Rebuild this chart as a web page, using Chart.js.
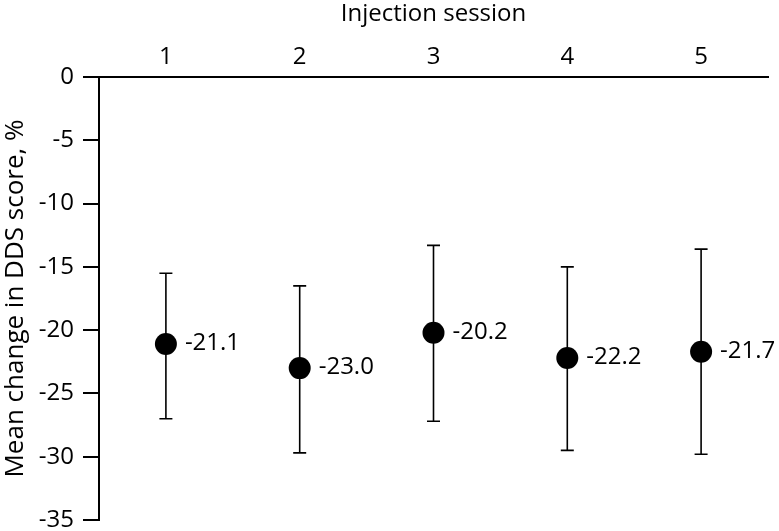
<!DOCTYPE html>
<html>
<head>
<meta charset="utf-8">
<script src="https://cdn.jsdelivr.net/npm/chart.js@4"></script>
<style>
  html, body { margin: 0; padding: 0; background: #fff; }
  #wrap { width: 779px; height: 531px; }
</style>
</head>
<body>
<div id="wrap"><canvas id="chart"></canvas></div>
<script>
// data
const sessions = ["1", "2", "3", "4", "5"];
const meanChange = [-21.1, -23.0, -20.2, -22.2, -21.7];
const errUpper = [-15.5, -16.5, -13.3, -15.0, -13.6];
const errLower = [-27.0, -29.7, -27.2, -29.5, -29.8];
const yTicks = [0, -5, -10, -15, -20, -25, -30, -35];

const FONT = "'Open Sans', 'Noto Sans', sans-serif";
const FSIZE = 24;

// draws error bars and value labels using the chart scales
const errorBars = {
  id: "errorBars",
  beforeDatasetsDraw(chart) {
    const ctx = chart.ctx;
    const x = chart.scales.x, y = chart.scales.y;
    ctx.save();
    ctx.strokeStyle = "#000";
    ctx.lineWidth = 1.6;
    sessions.forEach((s, i) => {
      const px = x.getPixelForValue(i);
      const top = y.getPixelForValue(errUpper[i]);
      const bot = y.getPixelForValue(errLower[i]);
      ctx.beginPath();
      ctx.moveTo(px, top); ctx.lineTo(px, bot);
      ctx.moveTo(px - 6.5, top); ctx.lineTo(px + 6.5, top);
      ctx.moveTo(px - 6.5, bot); ctx.lineTo(px + 6.5, bot);
      ctx.stroke();
    });
    ctx.restore();
  },
  afterDatasetsDraw(chart) {
    const ctx = chart.ctx;
    const x = chart.scales.x, y = chart.scales.y;
    ctx.save();
    ctx.fillStyle = "#000";
    ctx.font = FSIZE + "px " + FONT;
    ctx.textAlign = "left";
    ctx.textBaseline = "middle";
    meanChange.forEach((v, i) => {
      ctx.fillText(v.toFixed(1), x.getPixelForValue(i) + 19, y.getPixelForValue(v) - 1);
    });
    ctx.restore();
  }
};

new Chart(document.getElementById("chart"), {
  type: "line",
  data: {
    labels: sessions,
    datasets: [{
      data: meanChange,
      showLine: false,
      pointRadius: 11,
      pointHoverRadius: 11,
      pointBackgroundColor: "#000",
      pointBorderColor: "#000",
      pointBorderWidth: 0
    }]
  },
  options: {
    responsive: true,
    maintainAspectRatio: false,
    animation: false,
    events: [],
    layout: { padding: { left: 0, top: 0, right: 9, bottom: 5 } },
    plugins: { legend: { display: false }, tooltip: { enabled: false } },
    scales: {
      x: {
        position: "top",
        offset: true,
        grid: { display: false, drawTicks: false },
        border: { display: true, color: "#000", width: 2 },
        ticks: { color: "#000", font: { family: FONT, size: FSIZE }, padding: 5 },
        title: {
          display: true, text: "Injection session", color: "#000",
          font: { family: FONT, size: FSIZE }, padding: { top: 0, bottom: 2 }
        },
        afterFit(scale) { scale.height = 77; }
      },
      y: {
        min: -35,
        max: 0,
        afterBuildTicks(scale) { scale.ticks = yTicks.map(v => ({ value: v })); },
        grid: { drawOnChartArea: false, tickLength: 16, color: "#000", lineWidth: 2 },
        border: { display: true, color: "#000", width: 2 },
        ticks: { color: "#000", font: { family: FONT, size: FSIZE }, padding: 9 },
        title: {
          display: true, text: "Mean change in DDS score, %", color: "#000",
          font: { family: FONT, size: 26 }, padding: { top: 0, bottom: 0 }
        },
        afterFit(scale) {
          scale.width = 99;
          scale.paddingTop = 0;
          scale.paddingBottom = 0;
        }
      }
    }
  },
  plugins: [errorBars]
});
</script>
</body>
</html>
